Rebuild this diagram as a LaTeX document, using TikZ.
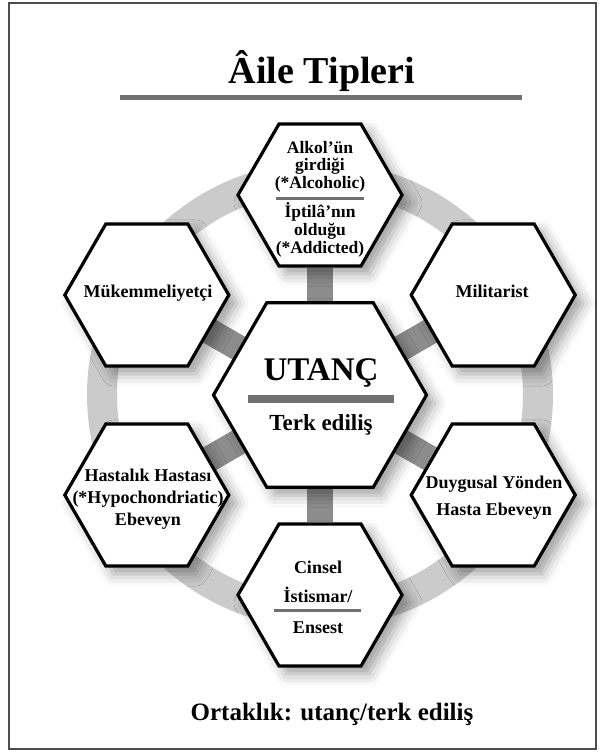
\documentclass[tikz,border=0pt]{standalone}
\usepackage{fontspec}
\setmainfont{Liberation Serif}
\usetikzlibrary{shapes.geometric,backgrounds,shadows.blur}
\definecolor{ringgray}{HTML}{CBCBCB}
\definecolor{spokegray}{HTML}{8C8C8C}
\definecolor{rulegray}{HTML}{707070}
\definecolor{framegray}{HTML}{4D4D4D}
\tikzset{
  hexo/.style={regular polygon, regular polygon sides=6, minimum size=164pt,
    inner sep=0pt, draw=black, line width=3.2pt, fill=white,
    blur shadow={shadow xshift=8pt, shadow yshift=-8pt, shadow blur radius=12pt, shadow opacity=38}},
  corehex/.style={hexo, minimum size=213pt},
  hextext/.style={align=center, inner sep=0pt, anchor=base,
    font=\bfseries\fontsize{18}{18}\selectfont},
  spoke/.style={draw=spokegray, line width=26pt},
  ringband/.style={draw=ringgray, line width=30pt},
  seprule/.style={draw=rulegray, line width=3pt},
}
\begin{document}
\begin{tikzpicture}[x=1pt,y=-1pt]
      \useasboundingbox (0,0) rectangle (598,752);
      \draw[framegray, line width=1.5pt] (9,3) rectangle (596,749);
      % title
      \node[anchor=base, font=\bfseries\fontsize{38}{40}\selectfont] (title) at (322,83) {Âile Tipleri};
      \draw[draw=rulegray, line width=5.5pt] (120,97.5) -- (522,97.5);
      % hexagons
      \node[hexo] (alkol) at (320,195) {};
      \node[hexo] (mukem) at (146.8,295) {};
      \node[hexo] (milit) at (493.2,295) {};
      \node[hexo] (hasta) at (146.8,495) {};
      \node[hexo] (duygu) at (493.2,495) {};
      \node[hexo] (cinsel) at (320,595) {};
      \node[corehex] (core) at (320,395) {};
      \begin{scope}[on background layer]
        \draw[ringband] (core.center) circle (218);
        \draw[spoke] (core) to (alkol);
        \draw[spoke] (core) to (mukem);
        \draw[spoke] (core) to (milit);
        \draw[spoke] (core) to (hasta);
        \draw[spoke] (core) to (duygu);
        \draw[spoke] (core) to (cinsel);
      \end{scope}
      % texts (base = last line)
      \node[hextext, font=\bfseries\fontsize{17.5}{17.5}\selectfont] (alkolA) at (320,188) {Alkol’ün\\girdiği\\(*Alcoholic)};
      \draw[seprule] (276,198) -- (364,198);
      \node[hextext, font=\bfseries\fontsize{17.5}{18}\selectfont] (alkolB) at (320,253) {İptilâ’nın\\olduğu\\(*Addicted)};
      \node[hextext] (mukemT) at (148,297) {Mükemmeliyetçi};
      \node[hextext] (militT) at (492,297) {Militarist};
      \node[hextext, font=\bfseries\fontsize{33}{35}\selectfont] (utancT) at (321,380) {UTANÇ};
      \draw[draw=rulegray, line width=8pt] (248,399) -- (394,399);
      \node[hextext, font=\bfseries\fontsize{23}{25}\selectfont] (terkT) at (321,430) {Terk ediliş};
      \node[hextext, font=\bfseries\fontsize{18}{22}\selectfont] (hastaT) at (148,525) {Hastalık Hastası\\(*Hypochondriatic)\\Ebeveyn};
      \node[hextext, font=\bfseries\fontsize{18}{27}\selectfont] (duyguT) at (494,515) {Duygusal Yönden\\Hasta Ebeveyn};
      \node[hextext, font=\bfseries\fontsize{18}{29}\selectfont] (cinselA) at (318,602) {Cinsel\\İstismar/};
      \draw[seprule] (274,610) -- (361,610);
      \node[hextext] (ensestT) at (318,633) {Ensest};
      % bottom line
      \node[anchor=base, font=\bfseries\fontsize{25}{27}\selectfont] (common) at (332,720) {Ortaklık: utanç/terk ediliş};
    \end{tikzpicture}
\end{document}
